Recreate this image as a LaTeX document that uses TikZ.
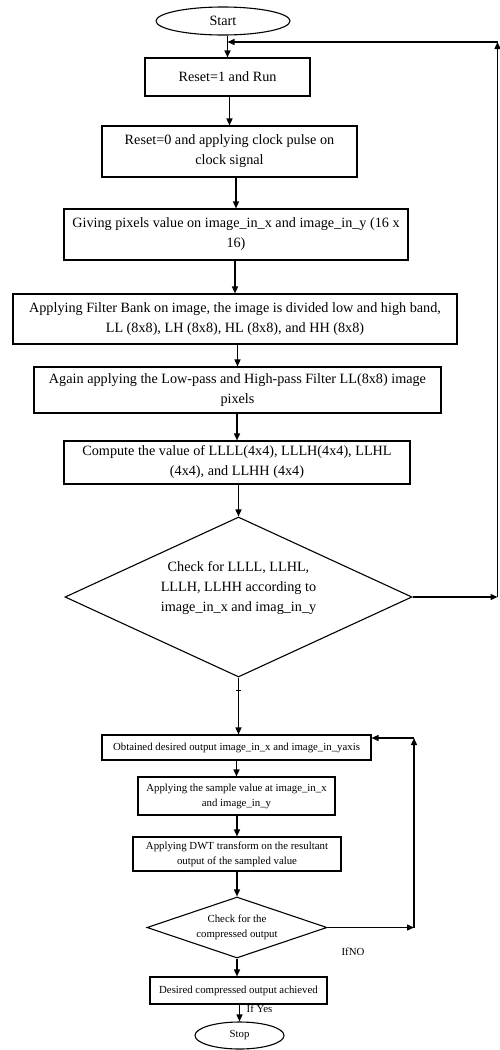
\documentclass[tikz,border=0pt]{standalone}
\usepackage{fontspec}
\setmainfont{Liberation Serif}
\usetikzlibrary{shapes.geometric,arrows.meta}
\begin{document}
\begin{tikzpicture}[x=1pt,y=-1pt,
  box/.style={draw,line width=1.1pt,align=center,inner sep=0pt},
  big/.style={font=\fontsize{14.2}{20}\selectfont},
  small/.style={font=\fontsize{10.8}{15}\selectfont},
  term/.style={draw,ellipse,line width=1.1pt,inner sep=0pt},
  dia/.style={draw,diamond,line width=1.1pt,inner sep=0pt,align=center},
  arr/.style={line width=1.4pt,-{Triangle[length=7pt,width=6pt]}},
  ln/.style={line width=1.4pt}]
\useasboundingbox (0,0) rectangle (500,1050);

\node[term,big,minimum width=134,minimum height=28] (start) at (223,21) {Start};
\node[box,big,minimum width=165,minimum height=38] (r1) at (227.5,77) {Reset=1 and Run};
\node[box,big,minimum width=255,minimum height=51] (r0) at (229.5,151.5) {Reset=0 and applying clock pulse on\\clock signal};
\node[box,big,minimum width=344,minimum height=51] (give) at (236,234.5) {Giving pixels value on image\_in\_x and image\_in\_y (16 x\\16)};
\node[box,big,minimum width=444,minimum height=50] (filt) at (235,319) {Applying Filter Bank on image, the image is divided low and high band,\\LL (8x8), LH (8x8), HL (8x8), and HH (8x8)};
\node[box,big,minimum width=407,minimum height=46] (again) at (237.5,390) {Again applying the Low-pass and High-pass Filter LL(8x8) image\\pixels};
\node[box,big,minimum width=346,minimum height=43] (comp) at (237,462.5) {Compute the value of LLLL(4x4), LLLH(4x4), LLHL\\(4x4), and LLHH (4x4)};
\node[dia,minimum width=347,minimum height=160,
  label={[big,align=center,yshift=9pt]center:{Check for LLLL, LLHL,\\LLLH, LLHH according to\\image\_in\_x and imag\_in\_y}}] (d1) at (238.5,597) {};

\node[box,small,minimum width=269,minimum height=25] (obt) at (236.5,747.5) {Obtained desired output image\_in\_x and image\_in\_yaxis};
\node[box,small,minimum width=197,minimum height=38] (samp) at (236.5,796) {Applying the sample value at image\_in\_x\\and image\_in\_y};
\node[box,small,minimum width=208,minimum height=34] (dwt) at (237,854) {Applying DWT transform on the resultant\\output of the sampled value};
\node[dia,minimum width=180,minimum height=61,
  label={[small,align=center]center:{Check for the\\compressed output}}] (d2) at (237,927.5) {};
\node[box,small,minimum width=177,minimum height=27] (des) at (238.5,990.5) {Desired compressed output achieved};
\node[term,small,minimum width=89,minimum height=27] (stop) at (239.5,1035.5) {Stop};
\node[small] (ifno) at (353,952) {IfNO};
\node[small] (ifyes) at (259.5,1009) {If Yes};

% main flow
\draw[arr] (r1.north |- start.south) -- (r1.north);
\draw[arr] (r0.north |- r1.south) -- (r0.north);
\draw[arr] (give.north |- r0.south) -- (give.north);
\draw[arr] (filt.north |- give.south) -- (filt.north);
\draw[arr] (again.north |- filt.south) -- (again.north);
\draw[arr] (comp.north |- again.south) -- (comp.north);
\draw[arr] (d1.north |- comp.south) -- (d1.north);
\draw[arr] (d1.south) -- (d1.south |- obt.north);
\coordinate (tick) at (238.5,690);
\draw[line width=0.8pt] ([xshift=-2.5pt]tick) -- ([xshift=2.5pt]tick);
\draw[arr] (samp.north |- obt.south) -- (samp.north);
\draw[arr] (dwt.north |- samp.south) -- (dwt.north);
\draw[arr] (d2.north |- dwt.south) -- (d2.north);
\draw[arr] (d2.south) -- (d2.south |- des.north);
\draw[arr] (stop.north |- des.south) -- (stop.north);

% outer loop
\coordinate (fbR) at (497.5,597);
\coordinate (fbT) at (497.5,42);
\coordinate (fbL) at (227.5,42);
\draw[arr] (d1.east) -- (fbR);
\draw[arr] (fbR) -- (fbT);
\draw[arr] (fbT) -- (fbL);

% inner loop
\coordinate (lbR) at (414,927.5);
\coordinate (lbT) at (414,738);
\draw[arr] (d2.east) -- (lbR);
\draw[arr] (lbR) -- (lbT);
\draw[arr] (lbT) -- (obt.east |- lbT);
\end{tikzpicture}
\end{document}
